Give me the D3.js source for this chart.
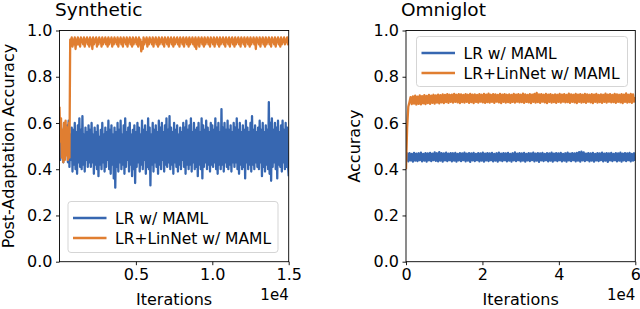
<!DOCTYPE html>
<html><head><meta charset="utf-8">
<script src="https://cdn.jsdelivr.net/npm/d3@7"></script>
<style>body{margin:0;background:#fff}svg{display:block}text{font-family:"DejaVu Sans",sans-serif;fill:#000}</style>
</head><body>
<script>
const seriesNames = ["LR w/ MAML", "LR+LinNet w/ MAML"];
const colors = ["#3767b1", "#e07e31"];
const synthStep = 50;      // iterations between points (Synthetic)
const omniStep = 300;      // iterations between points (Omniglot)
const yTicks = [0, 0.2, 0.4, 0.6, 0.8, 1.0];
const synthXTicks = [5000, 10000, 15000];
const omniXTicks = [0, 20000, 40000, 60000];

const synthBlue = [
0.55,0.44,0.58,0.46,0.52,0.43,0.60,0.45,0.56,0.47,
0.59,0.43,0.61,0.41,0.55,0.44,0.58,0.39,0.57,0.42,
0.60,0.40,0.56,0.38,0.59,0.43,0.62,0.41,0.57,0.40,
0.63,0.42,0.55,0.39,0.58,0.44,0.56,0.41,0.59,0.43,
0.57,0.41,0.60,0.43,0.55,0.38,0.58,0.42,0.56,0.40,
0.59,0.37,0.54,0.42,0.57,0.40,0.60,0.43,0.55,0.39,
0.58,0.41,0.56,0.44,0.61,0.40,0.57,0.38,0.59,0.42,
0.55,0.36,0.58,0.32,0.56,0.41,0.60,0.39,0.57,0.43,
0.61,0.40,0.55,0.42,0.59,0.38,0.62,0.41,0.56,0.44,
0.58,0.39,0.60,0.42,0.55,0.37,0.57,0.40,0.59,0.34,
0.56,0.41,0.60,0.43,0.58,0.39,0.55,0.42,0.61,0.40,
0.57,0.44,0.59,0.38,0.56,0.41,0.62,0.40,0.58,0.33,
0.55,0.42,0.60,0.39,0.57,0.43,0.59,0.41,0.56,0.38,
0.61,0.42,0.58,0.40,0.60,0.44,0.56,0.39,0.59,0.42,
0.62,0.41,0.57,0.43,0.63,0.40,0.58,0.42,0.56,0.38,
0.60,0.43,0.57,0.41,0.59,0.39,0.55,0.42,0.58,0.40,
0.56,0.44,0.60,0.41,0.58,0.38,0.61,0.42,0.57,0.40,
0.59,0.42,0.62,0.39,0.56,0.43,0.60,0.40,0.57,0.41,
0.58,0.37,0.60,0.42,0.56,0.40,0.62,0.36,0.59,0.41,
0.57,0.43,0.61,0.40,0.58,0.42,0.56,0.39,0.60,0.42,
0.59,0.41,0.57,0.43,0.62,0.40,0.58,0.38,0.60,0.42,
0.56,0.40,0.66,0.42,0.58,0.39,0.60,0.43,0.57,0.41,
0.61,0.40,0.57,0.42,0.59,0.39,0.56,0.43,0.60,0.41,
0.58,0.43,0.62,0.40,0.57,0.38,0.60,0.42,0.56,0.40,
0.59,0.41,0.57,0.36,0.61,0.43,0.58,0.40,0.56,0.42,
0.60,0.39,0.63,0.42,0.57,0.40,0.59,0.43,0.56,0.41,
0.58,0.40,0.61,0.43,0.57,0.37,0.60,0.41,0.56,0.39,
0.59,0.42,0.57,0.40,0.69,0.38,0.60,0.35,0.62,0.41,
0.57,0.43,0.60,0.40,0.58,0.36,0.61,0.42,0.56,0.41,
0.59,0.39,0.61,0.43,0.57,0.40,0.60,0.41,0.58,0.42,
0.37];

const synthOrange = [
0.67,0.52,0.62,0.45,0.57,0.43,0.60,0.44,0.61,0.46,0.58,0.44,0.60,0.45,0.96,
0.95,0.97,0.93,0.96,0.94,0.97,0.92,0.96,0.94,0.97,
0.94,0.96,0.93,0.97,0.95,0.96,0.94,0.97,0.93,0.96,
0.95,0.97,0.94,0.96,0.93,0.97,0.94,0.96,0.92,0.97,
0.94,0.96,0.95,0.97,0.93,0.96,0.94,0.97,0.95,0.96,
0.93,0.97,0.94,0.96,0.95,0.97,0.94,0.96,0.93,0.97,
0.94,0.96,0.95,0.97,0.93,0.96,0.94,0.97,0.95,0.96,
0.94,0.97,0.93,0.96,0.95,0.97,0.94,0.96,0.93,0.97,
0.95,0.96,0.94,0.97,0.93,0.96,0.95,0.97,0.94,0.96,
0.93,0.97,0.94,0.96,0.95,0.97,0.94,0.96,0.93,0.97,
0.94,0.96,0.91,0.95,0.92,0.97,0.94,0.96,0.95,0.97,
0.93,0.96,0.94,0.97,0.95,0.96,0.94,0.97,0.93,0.96,
0.95,0.97,0.94,0.96,0.93,0.97,0.94,0.96,0.95,0.97,
0.94,0.96,0.93,0.97,0.95,0.96,0.94,0.97,0.93,0.96,
0.95,0.97,0.94,0.96,0.93,0.97,0.94,0.96,0.95,0.97,
0.94,0.96,0.93,0.97,0.95,0.96,0.94,0.97,0.93,0.96,
0.95,0.97,0.94,0.96,0.93,0.97,0.94,0.96,0.95,0.97,
0.94,0.96,0.93,0.97,0.92,0.96,0.94,0.97,0.93,0.96,
0.95,0.97,0.94,0.96,0.93,0.97,0.94,0.96,0.95,0.97,
0.94,0.96,0.93,0.97,0.95,0.96,0.94,0.97,0.93,0.96,
0.95,0.97,0.94,0.96,0.93,0.97,0.94,0.96,0.95,0.97,
0.94,0.96,0.93,0.97,0.95,0.96,0.94,0.97,0.93,0.96,
0.95,0.97,0.94,0.96,0.93,0.97,0.94,0.96,0.95,0.97,
0.94,0.96,0.93,0.97,0.95,0.96,0.94,0.97,0.93,0.96,
0.95,0.97,0.94,0.96,0.93,0.97,0.94,0.96,0.95,0.97,
0.94,0.96,0.92,0.97,0.95,0.96,0.94,0.97,0.93,0.96,
0.95,0.97,0.94,0.96,0.93,0.97,0.94,0.96,0.95,0.97,
0.94,0.96,0.93,0.97,0.95,0.96,0.94,0.97,0.93,0.96,
0.95,0.97,0.94,0.96,0.93,0.97,0.94,0.96,0.95,0.97,
0.94,0.96,0.95,0.97,0.94,0.96];

const omniBlue = [
0.440,0.468,0.434,0.470,0.438,0.466,0.433,0.471,0.437,0.467,
0.435,0.469,0.439,0.472,0.434,0.466,0.437,0.470,0.433,0.468,
0.438,0.471,0.435,0.467,0.439,0.473,0.436,0.469,0.434,0.474,
0.437,0.470,0.433,0.468,0.438,0.472,0.435,0.467,0.439,0.470,
0.434,0.469,0.437,0.471,0.433,0.466,0.438,0.470,0.435,0.468,
0.439,0.472,0.434,0.467,0.437,0.470,0.432,0.468,0.438,0.471,
0.435,0.466,0.439,0.470,0.434,0.468,0.437,0.472,0.433,0.467,
0.438,0.470,0.435,0.468,0.439,0.471,0.434,0.466,0.437,0.469,
0.433,0.472,0.438,0.467,0.435,0.470,0.439,0.468,0.434,0.471,
0.437,0.466,0.433,0.469,0.438,0.473,0.435,0.467,0.439,0.470,
0.434,0.468,0.437,0.471,0.433,0.466,0.438,0.470,0.435,0.468,
0.439,0.472,0.434,0.467,0.437,0.470,0.432,0.468,0.438,0.471,
0.435,0.466,0.439,0.470,0.434,0.468,0.437,0.472,0.433,0.467,
0.438,0.470,0.435,0.468,0.439,0.471,0.434,0.466,0.437,0.469,
0.433,0.472,0.438,0.467,0.435,0.470,0.439,0.468,0.434,0.471,
0.437,0.474,0.433,0.476,0.438,0.473,0.435,0.467,0.439,0.470,
0.434,0.468,0.437,0.471,0.433,0.466,0.438,0.470,0.435,0.468,
0.439,0.472,0.434,0.467,0.437,0.470,0.432,0.468,0.438,0.471,
0.435,0.466,0.439,0.470,0.434,0.468,0.437,0.472,0.433,0.467,
0.438,0.470,0.435,0.468,0.439,0.471,0.434,0.466,0.437,0.469,
0.436];

const omniOrange = [
0.400,0.580,0.670,0.690,0.712,0.682,0.715,0.684,0.718,0.680,
0.714,0.683,0.719,0.681,0.716,0.685,0.720,0.682,0.717,0.686,
0.721,0.683,0.718,0.687,0.722,0.684,0.719,0.688,0.723,0.685,
0.720,0.689,0.724,0.686,0.721,0.690,0.725,0.687,0.722,0.691,
0.723,0.688,0.726,0.691,0.722,0.689,0.725,0.686,0.724,0.690,
0.721,0.688,0.725,0.691,0.722,0.687,0.726,0.690,0.723,0.686,
0.724,0.691,0.721,0.688,0.725,0.692,0.722,0.689,0.726,0.687,
0.723,0.690,0.727,0.688,0.722,0.691,0.725,0.687,0.724,0.692,
0.721,0.689,0.726,0.686,0.723,0.691,0.725,0.688,0.722,0.690,
0.724,0.687,0.721,0.691,0.726,0.688,0.723,0.692,0.725,0.689,
0.722,0.690,0.727,0.687,0.724,0.691,0.721,0.689,0.725,0.686,
0.723,0.691,0.726,0.688,0.730,0.690,0.724,0.687,0.725,0.692,
0.722,0.689,0.726,0.686,0.723,0.691,0.725,0.688,0.721,0.690,
0.724,0.687,0.722,0.691,0.726,0.688,0.723,0.692,0.725,0.689,
0.721,0.690,0.727,0.687,0.724,0.691,0.722,0.689,0.726,0.686,
0.723,0.691,0.725,0.688,0.722,0.690,0.726,0.687,0.724,0.692,
0.722,0.689,0.725,0.686,0.723,0.691,0.726,0.688,0.721,0.690,
0.724,0.687,0.722,0.691,0.727,0.688,0.723,0.692,0.725,0.689,
0.721,0.690,0.726,0.687,0.724,0.691,0.722,0.689,0.725,0.686,
0.723,0.691,0.728,0.688,0.722,0.690,0.726,0.687,0.724,0.692,
0.712];

const W = 640, H = 309;
const svg = d3.select("body").append("svg").attr("width", W).attr("height", H);

const panels = [
  {title:"Synthetic", ylabel:"Post-Adaptation Accuracy", left:59.5, right:288.7, xmax:15000,
   step:synthStep, series:[synthBlue, synthOrange], xticks:synthXTicks, fmt:d=>(d/1e4).toFixed(1),
   titleX:55, ylabelX:14, legend:{x:68, y:201.5, w:210, h:51}},
  {title:"Omniglot", ylabel:"Accuracy", left:406, right:635.3, xmax:60000,
   step:omniStep, series:[omniBlue, omniOrange], xticks:omniXTicks, fmt:d=>String(d/1e4),
   titleX:401, ylabelX:360, legend:{x:416.5, y:36.5, w:211, h:50}}
];
const plotTop = 30.5, plotBottom = 261.7;

panels.forEach((p, pi) => {
  const x = d3.scaleLinear().domain([0, p.xmax]).range([p.left, p.right]);
  const y = d3.scaleLinear().domain([0, 1]).range([plotBottom, plotTop]);
  const g = svg.append("g");
  const clipId = "clip" + pi;
  svg.append("clipPath").attr("id", clipId).append("rect")
    .attr("x", p.left).attr("y", plotTop).attr("width", p.right - p.left).attr("height", plotBottom - plotTop);

  const line = d3.line().x((d, i) => x(i * p.step)).y(d => y(d));
  p.series.forEach((s, si) => {
    g.append("path").datum(s).attr("d", line).attr("fill", "none")
      .attr("stroke", colors[si]).attr("stroke-width", 2.3).attr("stroke-linejoin", "round")
      .attr("clip-path", `url(#${clipId})`);
  });

  const ya = g.append("g").attr("transform", `translate(${p.left},0)`)
    .call(d3.axisLeft(y).tickValues(yTicks).tickFormat(d3.format(".1f")).tickSize(3.5).tickPadding(3.5));
  const xa = g.append("g").attr("transform", `translate(0,${plotBottom})`)
    .call(d3.axisBottom(x).tickValues(p.xticks).tickFormat(p.fmt).tickSize(3.5).tickPadding(3.5));
  [ya, xa].forEach(a => {
    a.select(".domain").remove();
    a.selectAll("text").attr("font-size", 16).attr("font-family", "DejaVu Sans").attr("fill", "#000");
    a.selectAll("line").attr("stroke", "#000").attr("stroke-width", 0.9);
  });
  g.append("rect").attr("x", p.left).attr("y", plotTop).attr("width", p.right - p.left).attr("height", plotBottom - plotTop)
    .attr("fill", "none").attr("stroke", "#000").attr("stroke-width", 0.9);

  g.append("text").attr("x", p.titleX).attr("y", 16).attr("font-size", 18.5).text(p.title);
  g.append("text").attr("transform", `translate(${p.ylabelX},${(plotTop + plotBottom) / 2}) rotate(-90)`)
    .attr("text-anchor", "middle").attr("font-size", 16).text(p.ylabel);
  g.append("text").attr("x", (p.left + p.right) / 2).attr("y", 305).attr("text-anchor", "middle")
    .attr("font-size", 16).text("Iterations");
  g.append("text").attr("x", p.right).attr("y", 300).attr("text-anchor", "end")
    .attr("font-size", 15).text("1e4");

  const L = p.legend;
  const lg = g.append("g");
  lg.append("rect").attr("x", L.x).attr("y", L.y).attr("width", L.w).attr("height", L.h)
    .attr("rx", 3).attr("fill", "#fff").attr("fill-opacity", 0.8).attr("stroke", "#d0d0d0").attr("stroke-width", 0.9);
  seriesNames.forEach((name, si) => {
    const cy = L.y + 16.5 + si * 20;
    lg.append("line").attr("x1", L.x + 5).attr("x2", L.x + 38.5).attr("y1", cy).attr("y2", cy)
      .attr("stroke", colors[si]).attr("stroke-width", 2.7);
    lg.append("text").attr("x", L.x + 47).attr("y", cy).attr("dy", "0.36em")
      .attr("font-size", 15.5).text(name);
  });
});
</script>
</body></html>
